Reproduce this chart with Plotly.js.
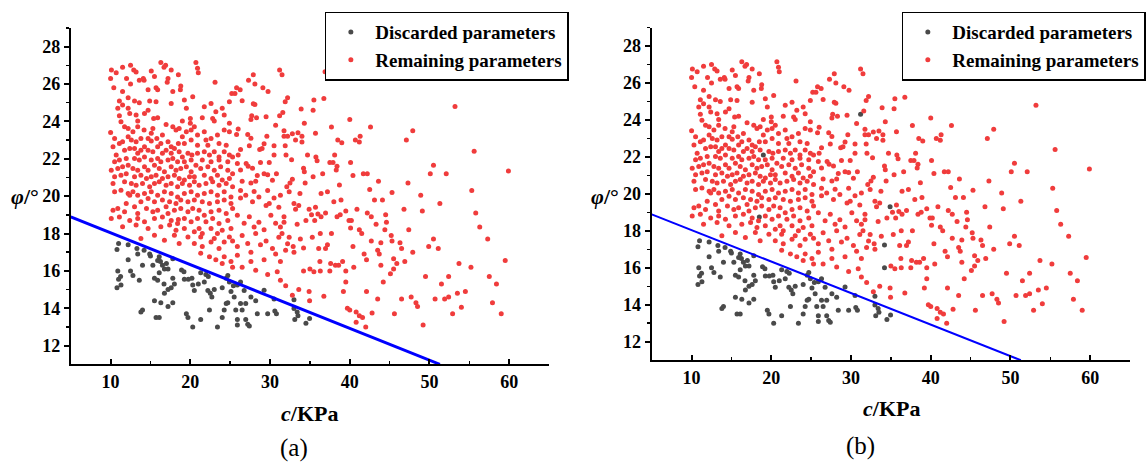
<!DOCTYPE html>
<html>
<head>
<meta charset="utf-8">
<script src="https://cdn.plot.ly/plotly-3.0.1.min.js"></script>
<style>html,body{margin:0;padding:0;background:#fff;}#chart{width:1146px;height:463px;}</style>
</head>
<body>
<div id="chart"></div>
<script>
// ---- DATA (c in KPa, phi in degrees) ----
const remainingPoints = [
// upper band
[10.1,26.75],[10.7,26.6],[11.5,26.9],[10.0,26.3],[10.4,25.8],[12.5,27.0],[12.9,26.75],[13.2,26.65],[14.2,26.2],[15.1,26.7],[15.5,26.4],[16.3,27.15],[16.9,27.0],[16.7,26.9],[17.6,26.75],[17.2,26.3],[17.1,26.1],[18.5,26.5],[20.7,27.15],[20.9,26.85],[21.0,26.6],[23.1,26.1],[12.0,26.3],[12.5,26.0],[13.6,26.2],[14.1,26.3],[14.7,25.7],[15.7,25.8],[15.9,25.7],[17.8,25.6],[18.8,25.9],[18.75,25.7],[27.3,26.2],[27.9,26.5],[28.1,26.0],[29.1,25.8],[29.75,25.6],[25.2,25.5],[25.8,25.8],[26.25,25.7],[31.2,26.75],[11.5,25.6],[25.6,25.5],
// dense core (c 10-25, phi 17.7-25.4)
[11.1,25.09],[11.5,24.875],[12.2,25.27],[13.0,25.09],[13.6,25.0],[14.9,25.09],[15.7,25.05],[12.2,24.7],[10.9,24.7],[17.6,24.96],[19.25,25.14],[20.3,25.32],[19.5,24.7],[21.75,24.79],[22.6,24.96],[23.2,24.52],[24.0,24.7],[24.9,25.05],
[11.1,24.3],[11.3,23.98],[12.4,24.43],[13.2,24.34],[13.4,24.02],[14.25,24.43],[14.7,24.6],[15.4,24.16],[15.9,24.2],[16.96,23.84],[18.2,23.54],[19.0,24.02],[20.0,24.16],[20.0,23.9],[20.5,23.71],[21.5,24.2],[22.8,24.16],[23.0,24.02],[24.25,24.34],[24.9,23.9],[10.0,23.41],
[11.75,23.71],[12.2,23.625],[12.8,23.45],[13.4,23.71],[14.2,23.54],[15.3,23.625],[15.1,23.36],[16.5,23.27],[17.8,23.71],[18.6,23.625],[19.5,23.45],[19.0,23.18],[20.1,23.54],[20.9,23.27],[21.75,23.45],[21.96,23.0],[22.6,23.09],[23.4,23.27],[24.25,23.54],[24.9,23.45],[10.5,23.09],[11.1,22.82],[11.5,22.91],[12.2,23.18],[12.6,23.0],[13.2,22.91],[13.8,23.09],[14.7,23.09],[15.1,22.95],[15.8,23.09],[16.3,22.82],[17.2,22.91],[17.6,22.64],[18.5,22.82],[19.25,22.82],[20.1,23.0],[20.9,22.73],[22.2,22.73],[23.6,22.82],[24.5,22.73],
[10.3,22.64],[10.7,22.2],[11.75,22.46],[12.4,22.55],[13.0,22.55],[13.4,22.29],[13.8,22.46],[14.25,22.64],[14.7,22.46],[15.3,22.375],[15.9,22.64],[16.5,22.29],[16.96,22.46],[17.6,22.29],[18.0,22.55],[18.6,22.375],[19.7,22.29],[20.2,22.2],[20.9,22.29],[21.75,22.375],[22.4,22.2],[23.0,22.375],[23.6,22.1],[24.25,22.375],[24.9,22.2],[10.5,21.84],[11.1,21.93],[11.96,22.02],[13.0,22.02],[13.6,21.93],[14.25,22.1],[15.1,21.93],[15.9,22.02],[16.3,21.84],[17.2,21.93],[17.8,22.02],[18.4,21.84],[19.25,21.84],[20.1,21.93],[21.5,21.93],[22.6,21.84],[23.6,21.93],[24.7,21.84],[25.3,22.1],
[10.08,21.39],[10.9,21.48],[11.5,21.57],[12.2,21.66],[12.8,21.48],[13.4,21.39],[14.25,21.57],[14.7,21.39],[15.5,21.66],[16.1,21.48],[16.75,21.3],[17.6,21.57],[18.2,21.39],[18.8,21.48],[19.5,21.57],[20.1,21.3],[20.7,21.66],[21.3,21.48],[22.2,21.57],[23.0,21.39],[23.8,21.57],[24.7,21.39],[25.3,21.2],[10.5,21.04],[11.3,21.125],[11.96,21.2],[13.0,21.04],[13.8,21.125],[14.5,20.95],[15.1,21.04],[15.7,21.125],[16.5,20.95],[17.2,21.04],[18.0,21.125],[18.6,20.95],[19.25,20.86],[19.9,21.04],[20.5,21.04],[21.75,21.125],[22.6,20.95],[23.4,21.125],[24.0,20.86],[24.9,20.95],
[10.3,20.68],[11.75,20.77],[12.6,20.68],[13.2,20.59],[14.0,20.68],[14.9,20.5],[15.5,20.68],[16.1,20.77],[16.96,20.59],[17.6,20.68],[18.4,20.5],[19.0,20.68],[19.9,20.59],[20.5,20.77],[21.1,20.59],[21.96,20.68],[22.8,20.77],[23.6,20.59],[24.5,20.68],[25.3,20.5],[10.5,20.23],[11.3,20.32],[12.2,20.14],[12.8,20.23],[13.4,20.05],[14.25,20.14],[15.1,20.23],[15.9,20.05],[16.75,20.23],[17.6,20.14],[18.4,19.96],[19.25,20.14],[20.1,20.23],[20.9,20.05],[21.75,20.14],[22.6,20.23],[23.4,20.05],[24.25,20.23],[25.1,19.96],[12.4,20.05],[13.8,19.7],[14.7,19.875],[15.5,19.7],[16.5,19.79],[17.4,19.7],[18.2,19.6],[18.8,19.79],[19.7,19.7],[20.5,19.79],[21.5,19.7],[22.4,19.6],[23.4,19.7],[24.25,19.79],[25.1,19.6],
[10.3,19.25],[10.9,19.34],[11.75,19.16],[11.96,19.6],[13.0,19.43],[13.4,19.07],[14.5,19.34],[15.3,19.16],[15.9,19.25],[16.96,19.43],[17.2,19.07],[18.0,19.25],[18.8,19.34],[19.7,19.16],[20.3,19.34],[21.1,19.25],[21.75,18.98],[22.6,19.16],[23.6,19.25],[24.5,19.07],[25.3,19.34],[10.08,18.8],[11.1,18.89],[12.4,18.7],[13.4,18.8],[14.25,18.625],[15.5,18.8],[16.5,18.89],[17.6,18.7],[18.4,18.54],[19.25,18.8],[20.1,18.625],[20.9,18.8],[21.96,18.625],[22.8,18.8],[23.6,18.54],[24.7,18.7],
[11.5,18.36],[13.2,18.45],[14.7,18.27],[16.3,18.36],[17.4,18.45],[18.2,18.18],[19.25,18.27],[20.5,18.09],[21.1,18.27],[21.5,18.0],[22.6,18.27],[23.4,18.0],[24.0,18.18],[25.1,18.27],[15.5,17.91],[18.0,17.91],[19.7,17.82],[21.3,17.82],[23.0,17.73],[24.9,17.82],[13.8,17.73],
// c 25.5-31.5
[26.5,25.1],[27.9,24.95],[28.1,24.9],[27.7,24.3],[28.3,24.2],[27.6,24.1],[29.5,24.25],
[26.0,23.6],[25.8,23.3],[27.2,23.3],[27.6,23.1],[29.6,23.2],[29.25,22.8],[30.5,22.7],[29.0,22.55],[30.7,23.8],[28.7,22.5],[27.4,22.7],[26.3,22.5],[26.0,22.2],
[25.9,21.75],[26.3,21.4],[27.0,21.75],[27.25,21.6],[27.8,21.5],[26.5,20.8],[27.6,20.7],[28.2,20.8],[28.4,21.1],[29.25,21.2],[29.9,21.8],[30.5,22.2],[30.8,21.2],[29.7,21.15],[28.8,21.8],[30.3,20.85],[26.3,20.3],[28.0,20.25],[29.7,20.3],
[26.3,19.9],[26.95,20.05],[27.8,19.7],[28.6,19.96],[29.5,19.5],[29.9,19.6],[30.5,19.9],[31.1,19.4],[31.3,20.05],
[25.9,18.98],[26.75,18.55],[27.4,18.9],[28.0,18.35],[28.6,18.6],[29.25,18.2],[30.1,18.98],[30.7,18.55],[31.3,18.35],
[18.6,17.46],[20.5,17.46],[16.75,17.64],[21.5,17.3],[22.6,17.55],[23.6,17.2],[24.25,17.55],[25.3,17.6],[25.9,17.3],[26.5,17.9],[27.2,17.46],[27.6,17.0],[28.2,18.0],[28.8,17.4],[29.5,17.6],[30.3,17.2],[31.1,17.8],[31.5,18.0],[21.3,16.95],[22.4,16.75],[23.2,16.6],[24.25,16.75],[25.1,16.5],[25.9,16.84],[26.5,16.2],[27.6,16.5],[28.2,16.04],[29.25,16.6],[29.7,15.8],[30.7,16.9],[30.9,15.95],[31.3,16.5],[24.0,16.4],[25.3,16.2],
// c 31.5-40
[31.5,26.5],[36.9,26.66],[32.2,25.27],[31.9,25.05],[35.5,25.14],[36.75,25.23],[31.6,24.48],[33.9,24.66],[35.4,24.6],[34.3,23.9],[37.7,23.7],[31.75,23.5],[31.75,23.2],[32.2,23.2],[32.8,23.34],[33.5,23.4],[34.0,23.2],[34.0,22.9],[33.2,23.0],[35.7,23.36],[38.5,23.0],[39.0,22.86],[31.9,22.7],[32.0,22.2],[32.7,21.95],[34.7,22.2],[35.75,22.1],[35.9,21.9],[38.1,22.2],[37.5,21.8],[37.9,21.8],[38.4,21.6],[38.3,21.4],[35.4,21.04],[36.6,21.2],[34.2,21.5],[34.3,21.3],[38.7,20.6],[34.4,20.7],[32.8,20.9],[32.5,20.7],[32.1,20.5],[37.2,20.23],[36.4,20.14],[33.75,20.14],[32.4,20.23],
[38.0,19.7],[38.9,19.8],[33.0,19.6],[33.6,19.5],[33.2,19.3],[35.7,19.4],[36.96,19.1],[34.5,18.7],[33.4,18.5],[35.2,19.0],[35.6,18.7],[36.0,19.05],[36.4,18.9],[38.4,18.9],[38.8,19.0],[39.5,19.2],[39.9,18.7],[36.3,18.0],[37.7,18.0],[37.2,17.4],[36.96,17.2],[35.3,17.8],[33.8,17.7],[32.4,17.8],[32.2,17.45],[32.9,17.3],[33.0,17.0],[36.1,17.2],[37.6,16.4],[38.2,16.3],[38.6,16.3],[39.1,16.5],[36.25,16.5],[36.3,16.0],[37.5,16.0],[39.5,16.0],[31.96,15.2],[31.3,15.5],[33.6,15.0],[34.9,14.9],[36.75,14.64],[34.96,14.4],[32.8,14.7],[39.7,14.0],[31.75,18.9],[31.75,18.6],[31.95,17.1],[39.2,14.9],[39.5,15.4],[35.0,16.1],[35.5,15.95],
// c >= 40
[40.0,24.1],[42.6,23.7],[47.9,23.5],[47.1,23.0],[40.7,23.0],[41.3,23.2],[41.2,22.9],[53.2,24.8],[55.6,22.4],[59.9,21.35],[50.5,21.65],[50.1,21.2],[52.1,21.2],[41.7,21.2],[42.2,21.2],[40.1,21.8],[40.4,21.1],[47.3,20.7],[45.3,20.2],[55.3,20.3],[43.6,20.8],[42.5,20.35],[43.1,19.8],[44.1,19.8],[51.3,19.6],[55.8,19.1],[46.8,19.3],[48.9,20.05],[49.1,19.2],[56.3,18.35],[57.3,17.7],[50.5,17.7],[49.9,17.3],[51.1,17.2],[47.9,17.0],[47.4,18.2],[44.5,19.0],[44.6,18.6],[44.4,18.2],[43.3,18.5],[42.2,19.1],[41.2,18.2],[41.5,18.0],[40.2,18.7],[40.1,18.3],[40.4,17.3],[43.9,17.5],[45.3,17.6],[46.3,17.5],[46.5,17.2],[42.7,17.6],[41.8,16.9],[42.1,16.6],[43.7,16.9],[43.9,16.3],[45.5,16.65],[45.9,16.4],[46.9,16.5],[59.5,16.55],[53.7,16.4],[55.2,16.2],[57.5,15.7],[58.4,15.3],[52.4,15.7],[51.5,15.3],[49.5,15.7],[45.1,15.85],[45.5,16.1],[44.2,15.4],[42.1,14.9],[43.5,14.5],[53.5,14.8],[54.5,14.9],[52.4,14.6],[51.9,14.5],[50.7,14.5],[47.7,14.6],[48.3,14.3],[48.5,14.1],[46.5,14.5],[57.9,14.3],[54.0,14.05],[59.0,13.7],[52.9,13.7],[45.6,13.7],[42.8,13.75],[49.2,13.1],[41.6,13.5],[41.2,13.6],[42.0,13.0],[40.8,13.8],[40.8,13.25],[40.0,13.9],[40.5,16.2],[40.9,19.3],[42.7,18.9],[45.2,17.9],[43.5,17.1]
];

const discardedPoints = [
[11.0,17.46],[10.8,17.14],[12.2,17.4],[13.3,17.2],[13.4,16.9],[14.2,17.1],[14.9,16.9],[15.0,16.8],[12.2,16.6],[14.0,16.3],[15.3,16.3],[15.9,16.55],[16.1,16.75],[16.25,16.5],[16.5,16.3],[16.75,16.1],[17.0,16.4],[17.2,16.1],[17.8,16.65],[10.9,16.0],[11.25,15.7],[11.0,15.55],[11.3,15.25],[10.8,15.1],[12.5,16.0],[12.8,15.75],[13.6,15.5],[15.5,15.6],[15.9,15.5],[16.7,15.3],[16.1,15.9],[17.8,15.6],[18.0,15.3],[17.6,15.1],[17.2,15.0],[18.9,16.05],[19.2,15.95],[19.25,15.55],[19.75,15.55],[20.2,15.6],[20.3,15.25],[20.5,14.95],[21.0,15.3],[21.3,15.9],[21.95,15.8],[22.25,15.7],[21.75,15.4],[22.2,14.95],[22.5,14.8],[22.7,14.6],[23.0,15.0],[24.0,15.1],[24.5,15.6],[24.7,15.75],[24.9,15.4],[25.1,14.9],[25.4,15.2],[25.5,14.6],[25.9,15.25],[26.3,15.4],[26.75,14.95],[26.95,14.25],[27.6,14.6],[28.2,14.4],[29.25,14.96],[30.5,14.5],[15.5,14.4],[16.3,14.3],[16.75,14.8],[17.8,14.3],[17.2,14.1],[14.0,13.9],[13.8,13.8],[15.7,13.5],[16.1,13.5],[19.5,13.7],[19.7,13.5],[20.3,13.0],[21.3,13.4],[22.4,13.9],[23.4,13.0],[24.0,13.5],[24.25,13.9],[24.5,14.25],[24.7,14.3],[25.7,13.9],[25.9,13.4],[26.3,14.25],[26.5,13.9],[26.95,13.4],[27.2,13.15],[27.4,13.05],[28.4,13.7],[29.7,13.7],[30.6,13.85],[30.8,13.7],[25.9,13.1],[33.0,14.46],[33.0,13.98],[33.4,13.8],[33.5,13.6],[33.1,13.4],[34.5,13.2],[34.96,13.45]
];

// points that are "remaining" in (a) but "discarded" in (b)
const switchedPoints = [[31.2,24.3],[34.9,19.3],[34.2,17.23],[34.2,16.0],[19.0,22.1],[18.5,18.75]];

const boundaryC = [5, 51.3];
const boundaryPhi = [18.89, 11.0];

const xTickValues = [10, 20, 30, 40, 50, 60];
const yTickValues = [12, 14, 16, 18, 20, 22, 24, 26, 28];
const legendNames = ['Discarded parameters', 'Remaining parameters'];

// ---- BUILD ----
const xs = p => p.map(d => d[0]);
const ys = p => p.map(d => d[1]);
const redA = remainingPoints.concat(switchedPoints);
const grayA = discardedPoints;
const redB = remainingPoints;
const grayB = discardedPoints.concat(switchedPoints);

const RED = '#f03c3c', GRAY = '#4a4a4a', BLUE = '#0000ff';
const SERIF = 'Liberation Serif, Times New Roman, serif';

function pts(p, color, name, xa, ya, leg) {
  return {type:'scatter', mode:'markers', x:xs(p), y:ys(p), name:name, xaxis:xa, yaxis:ya,
    legend:leg, marker:{color:color, size:5, line:{width:0}}, hoverinfo:'skip'};
}
const traces = [
  pts(grayA, GRAY, legendNames[0], 'x', 'y', 'legend'),
  pts(redA, RED, legendNames[1], 'x', 'y', 'legend'),
  {type:'scatter', mode:'lines', x:boundaryC, y:boundaryPhi, xaxis:'x', yaxis:'y', showlegend:false,
    line:{color:BLUE, width:3}, hoverinfo:'skip'},
  pts(grayB, GRAY, legendNames[0], 'x2', 'y2', 'legend2'),
  pts(redB, RED, legendNames[1], 'x2', 'y2', 'legend2'),
  {type:'scatter', mode:'lines', x:boundaryC, y:boundaryPhi, xaxis:'x2', yaxis:'y2', showlegend:false,
    line:{color:BLUE, width:2}, hoverinfo:'skip'}
];

const tickFont = {family:SERIF, size:18, color:'#000', weight:'bold'};
function xAxis(domain, anchor) {
  return {domain:domain, anchor:anchor, range:[5,65], showline:true, linewidth:2, linecolor:'#000',
    ticks:'inside', ticklen:5, tickwidth:2, tickcolor:'#000', tickvals:xTickValues,
    ticktext:xTickValues.map(String), tickfont:tickFont, showgrid:false, zeroline:false,
    minor:{tickvals:[15,25,35,45,55,65], ticks:'inside', ticklen:3, tickwidth:1.5, tickcolor:'#000', showgrid:false},
    automargin:false, fixedrange:true};
}
function yAxis(domain, anchor) {
  return {domain:domain, anchor:anchor, range:[11,29], showline:true, linewidth:2, linecolor:'#000',
    ticks:'outside', ticklen:5, tickwidth:2, tickcolor:'#000', tickvals:yTickValues,
    ticktext:yTickValues.map(String), tickfont:tickFont, showgrid:false, zeroline:false,
    minor:{tickvals:[13,15,17,19,21,23,25,27,29], ticks:'outside', ticklen:3, tickwidth:1.5, tickcolor:'#000', showgrid:false},
    automargin:false, fixedrange:true};
}
const legendStyle = {xref:'paper', yref:'paper', xanchor:'left', yanchor:'top', bgcolor:'#fff',
  bordercolor:'#000', borderwidth:1.5, font:{family:SERIF, size:19, color:'#000', weight:'bold'},
  itemsizing:'trace', itemwidth:39, tracegroupgap:0};

function ann(text, x, y, size) {
  return {text:text, xref:'paper', yref:'paper', x:x/1146, y:1 - y/463, xanchor:'center', yanchor:'middle',
    showarrow:false, font:{family:SERIF, size:size, color:'#000'}};
}

const layout = {
  width:1146, height:463, margin:{l:0, r:0, t:0, b:0, pad:0},
  paper_bgcolor:'#fff', plot_bgcolor:'rgba(0,0,0,0)', showlegend:true,
  xaxis: xAxis([71/1146, 551/1146], 'y'),
  yaxis: yAxis([1-364.3/463, 1-28/463], 'x'),
  xaxis2: xAxis([654/1146, 1134/1146], 'y2'),
  yaxis2: yAxis([1-360.2/463, 1-27.5/463], 'x2'),
  legend: Object.assign({x:326/1146, y:1-11.7/463}, legendStyle),
  legend2: Object.assign({x:905/1146, y:1-11.7/463}, legendStyle),
  annotations: [
    ann('<b><i>c</i>/KPa</b>', 310.5, 413, 22),
    ann('<b><i>φ</i>/°</b>', 25, 196, 22),
    ann('(a)', 295, 448, 25),
    ann('<b><i>c</i>/KPa</b>', 894.5, 408, 22),
    ann('<b><i>φ</i>/°</b>', 607, 196.5, 22),
    ann('(b)', 864, 446, 25)
  ]
};

Plotly.newPlot('chart', traces, layout, {displayModeBar:false, staticPlot:true});
</script>
</body>
</html>
